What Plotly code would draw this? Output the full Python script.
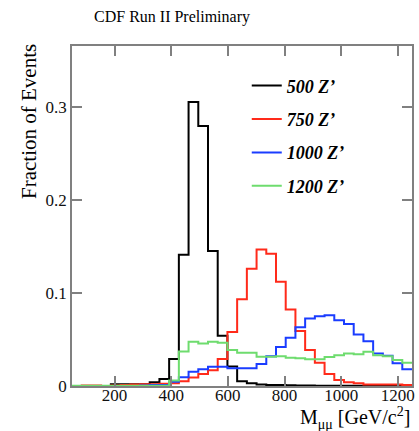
import numpy as np
import plotly.graph_objects as go

# Histogram binning (35 bins from 50 to 1250 GeV/c^2)
x_lo, x_hi, n_bins = 50, 1250, 35

black_500 = [0, 0, 0, 0, 0.002, 0.002, 0.002, 0.002, 0.004, 0.0075, 0.029, 0.141, 0.305, 0.279,
             0.145, 0.054, 0.021, 0.005, 0.003, 0.0015, 0.001, 0.001, 0.0008, 0.0005, 0.0005,
             0.0003, 0.0003, 0.0002, 0.0002, 0.0002, 0.0001, 0.0001, 0.0001, 0.0001, 0.0001]
red_750 = [0, 0.0005, 0.0005, 0, 0.0005, 0.001, 0.0015, 0.002, 0.002, 0.0025, 0.003, 0.005, 0.009,
           0.013, 0.017, 0.029, 0.058, 0.093, 0.126, 0.1465, 0.142, 0.112, 0.082, 0.059, 0.0386,
           0.025, 0.0129, 0.0064, 0.004, 0.003, 0.0015, 0.0015, 0.0015, 0.0015, 0.0012]
blue_1000 = [0, 0, 0, 0, 0, 0, 0, 0.0005, 0.001, 0.001, 0.0045, 0.0093, 0.0154, 0.018, 0.0207,
             0.0207, 0.019, 0.019, 0.019, 0.0236, 0.032, 0.042, 0.0518, 0.063, 0.0725, 0.075,
             0.076, 0.0707, 0.0665, 0.0554, 0.048, 0.035, 0.0325, 0.0243, 0.018]
green_1200 = [0.0003, 0.0003, 0.0003, 0.0003, 0.0003, 0.0003, 0.0003, 0.0003, 0.0003, 0.0003,
              0.006, 0.037, 0.0475, 0.0457, 0.0475, 0.0464, 0.0386, 0.0357, 0.0357, 0.0314,
              0.0314, 0.032, 0.0304, 0.0297, 0.0286, 0.0286, 0.031, 0.033, 0.035, 0.034, 0.0368,
              0.033, 0.032, 0.028, 0.025]

names = ["500 Z’", "750 Z’", "1000 Z’", "1200 Z’"]
colors = ["#000000", "#ff2a1a", "#1a3cff", "#6edc6e"]
series = [black_500, red_750, blue_1000, green_1200]

x_ticks = [200, 400, 600, 800, 1000, 1200]
y_ticks = [0, 0.1, 0.2, 0.3]
y_tick_labels = ["0", "0.1", "0.2", "0.3"]

edges = np.linspace(x_lo, x_hi, n_bins + 1)

fig = go.Figure()
for name, col, vals in zip(names, colors, series):
    fig.add_trace(go.Scatter(
        x=edges, y=list(vals) + [vals[-1]], mode="lines",
        line=dict(color=col, width=2, shape="hv"),
        name=name, legendgroup=name, hoverinfo="skip",
    ))

SERIF = "Liberation Serif, Times New Roman, serif"
axis_style = dict(showgrid=False, zeroline=False, showline=True, linecolor="#808080",
                  linewidth=1.5, mirror="ticks", ticks="inside", ticklen=10,
                  tickcolor="#808080", tickwidth=1.5,
                  tickfont=dict(family=SERIF, size=17, color="#111"))

fig.update_layout(
    width=419, height=431,
    font=dict(family=SERIF, color="black"),
    margin=dict(l=72, r=4, t=46, b=45),
    paper_bgcolor="white", plot_bgcolor="white",
    showlegend=True,
    legend=dict(x=0.514, y=0.937, xanchor="left", yanchor="top",
                bgcolor="rgba(0,0,0,0)", tracegroupgap=7,
                font=dict(family=SERIF, size=18, color="black",
                          style="italic", weight="bold")),
    xaxis=dict(range=[x_lo, x_hi], tickvals=x_ticks, ticklabelstandoff=-7, **axis_style),
    yaxis=dict(range=[0, 0.365], tickvals=y_ticks, ticktext=y_tick_labels, **axis_style),
    annotations=[
        dict(text="CDF Run II Preliminary", xref="paper", yref="paper",
             x=0.06, y=1.0, yshift=29, xanchor="left", yanchor="middle", showarrow=False,
             font=dict(family=SERIF, size=16, color="black")),
        dict(text="Fraction of Events", xref="paper", yref="paper", textangle=-90,
             x=-0.127, y=0.779, xanchor="center", yanchor="middle", showarrow=False,
             font=dict(family=SERIF, size=21, color="black")),
        dict(text="M<sub>μμ</sub> [GeV/c<sup>2</sup>]", xref="paper", yref="paper",
             x=1.0, y=0, yshift=-32, xanchor="right", yanchor="middle", showarrow=False,
             font=dict(family=SERIF, size=20, color="black")),
    ],
)

fig.write_html("out.html", config={"displayModeBar": False},
               post_script="document.body.style.margin='0';document.body.style.overflow='hidden';")
